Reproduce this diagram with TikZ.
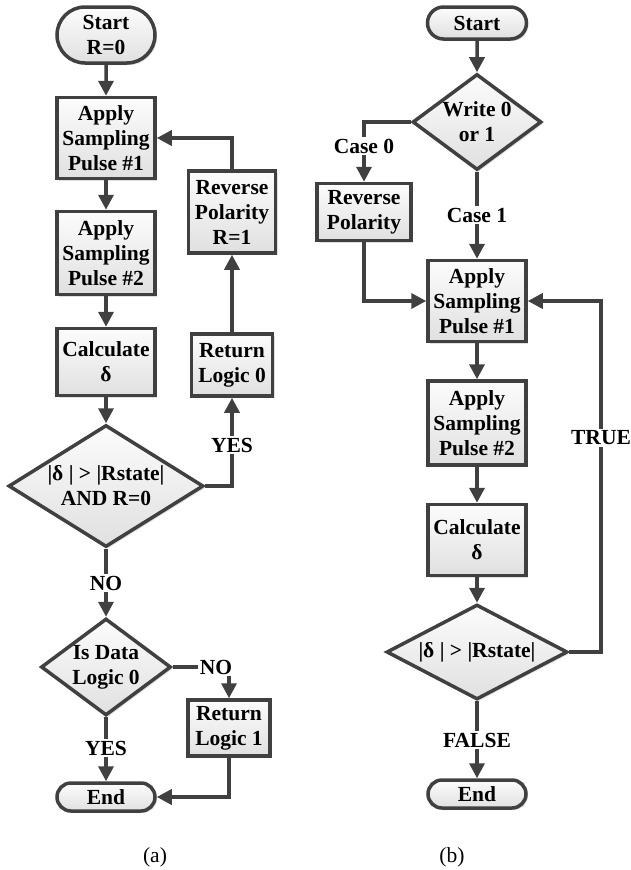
\documentclass[tikz,border=0pt]{standalone}
\usepackage{fontspec}
\setmainfont{Liberation Serif}
\usepackage{tikz}
\usepackage{xcolor}
\usetikzlibrary{shapes.geometric, shapes.misc, arrows.meta, shadows}
\definecolor{FC_Edge}{HTML}{404040}
\definecolor{FC_Top}{HTML}{FCFCFC}
\definecolor{FC_Bottom}{HTML}{E0E0E0}

\begin{document}
\begin{tikzpicture}[x=1pt, y=-1pt,
  shapebase/.style={draw=FC_Edge, line width=3.5pt, top color=FC_Top, bottom color=FC_Bottom, inner sep=0pt, align=center, font=\fontsize{21.5}{25}\selectfont\bfseries, drop shadow={shadow xshift=2pt, shadow yshift=-2pt, opacity=0.25}},
  procbox/.style={shapebase, rectangle},
  termbox/.style={shapebase, rounded rectangle},
  decision/.style={shapebase, diamond},
  dtext/.style={align=center, font=\fontsize{21.5}{25}\selectfont\bfseries, text=black},
  lbl/.style={inner sep=2pt, align=center, font=\fontsize{21.5}{25}\selectfont\bfseries},
  caption/.style={font=\fontsize{21.5}{25}\selectfont},
  seg/.style={draw=FC_Edge, line width=3.5pt},
  flowarrow/.style={seg, -{Triangle[length=15pt, width=15pt]}},
]
\useasboundingbox (0,0) rectangle (631,870);

% --- (a) read flow ---
\node[termbox, minimum width=98pt, minimum height=56pt] (startA) at (106,35) {Start\\R=0};
\node[procbox, minimum width=98pt, minimum height=81pt] (p1A) at (106,138) {Apply\\Sampling\\Pulse \#1};
\node[procbox, minimum width=98pt, minimum height=83pt] (p2A) at (106,253) {Apply\\Sampling\\Pulse \#2};
\node[procbox, minimum width=98pt, minimum height=67pt] (calcA) at (106,362) {Calculate\\δ};
\node[decision, minimum width=195pt, minimum height=122pt,
  label={[dtext]center:{|δ | > |Rstate|\\AND R=0}}] (d1A) at (106,486) {};
\node[decision, minimum width=130pt, minimum height=97pt,
  label={[dtext]center:{Is Data\\Logic 0}}] (d2A) at (106,667) {};
\node[termbox, minimum width=98pt, minimum height=28pt] (endA) at (106,797) {End};
\node[procbox, minimum width=81pt, minimum height=62pt] (retA0) at (232,365) {Return\\Logic 0};
\node[procbox, minimum width=87pt, minimum height=82pt] (revA) at (232,212) {Reverse\\Polarity\\R=1};
\node[procbox, minimum width=82pt, minimum height=56pt] (retA1) at (229,728) {Return\\Logic 1};

\node[lbl] (noA1) at (106,583) {NO};
\node[lbl] (yesA1) at (232,445) {YES};
\node[lbl] (noA2) at (216,667) {NO};
\node[lbl] (yesA2) at (106,748) {YES};
\node[caption] (capA) at (155,857) {(a)};

\draw[flowarrow] (startA) -- (p1A);
\draw[flowarrow] (p1A) -- (p2A);
\draw[flowarrow] (p2A) -- (calcA);
\draw[flowarrow] (calcA) -- (d1A);
\draw[seg] (d1A.south) -- (noA1);
\draw[flowarrow] (noA1) -- (d2A.north);
\draw[seg] (d2A.south) -- (yesA2);
\draw[flowarrow] (yesA2) -- (endA);
\draw[seg] (d2A.east) -- (noA2.west);
\draw[flowarrow] (noA2.south -| retA1.north) -- (retA1.north);
\draw[flowarrow] (retA1.south) |- (endA.east);
\draw[seg] (d1A.east) -| (yesA1.south);
\draw[flowarrow] (yesA1) -- (retA0);
\draw[flowarrow] (retA0) -- (revA);
\draw[flowarrow] (revA.north) |- (p1A.east);

% --- (b) write flow ---
\node[termbox, minimum width=99pt, minimum height=32pt] (startB) at (477,23) {Start};
\node[decision, minimum width=129pt, minimum height=96pt,
  label={[dtext]center:{Write 0\\or 1}}] (d0B) at (477,122) {};
\node[procbox, minimum width=94pt, minimum height=57pt] (revB) at (364,212) {Reverse\\Polarity};
\node[procbox, minimum width=98pt, minimum height=81pt] (p1B) at (477,301) {Apply\\Sampling\\Pulse \#1};
\node[procbox, minimum width=98pt, minimum height=84pt] (p2B) at (477,423) {Apply\\Sampling\\Pulse \#2};
\node[procbox, minimum width=98pt, minimum height=71pt] (calcB) at (477,540) {Calculate\\δ};
\node[decision, minimum width=181pt, minimum height=95pt,
  label={[dtext]center:{|δ | > |Rstate|}}] (d1B) at (477,652) {};
\node[termbox, minimum width=98pt, minimum height=28pt] (endB) at (477,794) {End};

\node[lbl] (case0) at (364,146) {Case 0};
\node[lbl] (case1) at (477,215) {Case 1};
\node[lbl] (trueB) at (601,438) {TRUE};
\node[lbl] (falseB) at (477,740) {FALSE};
\node[caption] (capB) at (452,857) {(b)};

\draw[flowarrow] (startB) -- (d0B);
\draw[seg] (d0B.west) -| (case0.north);
\draw[flowarrow] (case0) -- (revB);
\draw[seg] (d0B.south) -- (case1);
\draw[flowarrow] (case1) -- (p1B);
\draw[flowarrow] (revB.south) |- (p1B.west);
\draw[flowarrow] (p1B) -- (p2B);
\draw[flowarrow] (p2B) -- (calcB);
\draw[flowarrow] (calcB) -- (d1B);
\draw[seg] (d1B.south) -- (falseB);
\draw[flowarrow] (falseB) -- (endB);
\draw[seg] (d1B.east) -| (trueB.south);
\draw[flowarrow] (trueB.north) |- (p1B.east);

\end{tikzpicture}
\end{document}
